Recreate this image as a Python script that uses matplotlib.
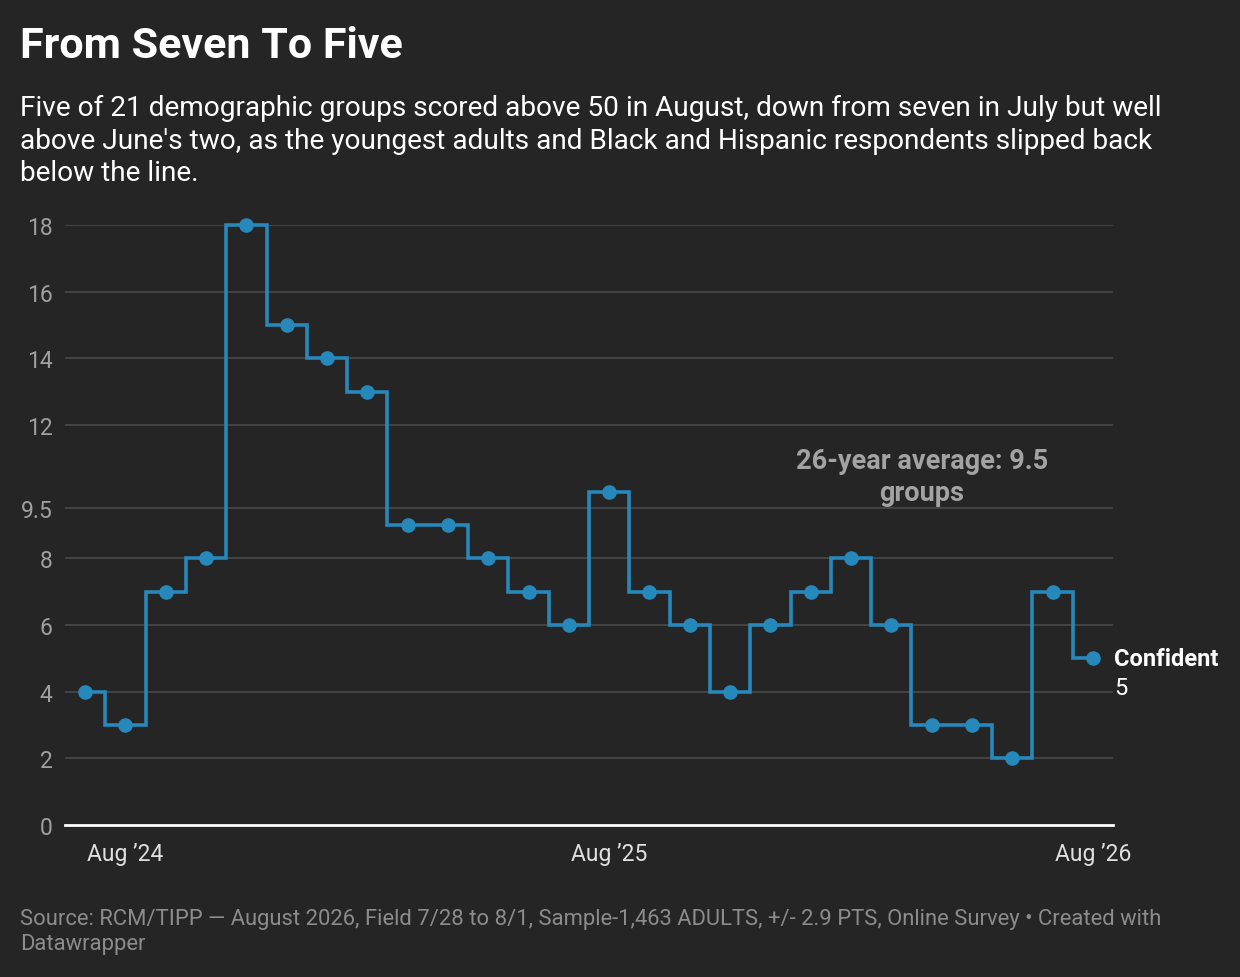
import matplotlib
matplotlib.use("Agg")
import matplotlib.pyplot as plt

# Groups scoring above 50, monthly Jul 2024 - Aug 2026
months = ["Jul '24", "Aug '24", "Sep '24", "Oct '24", "Nov '24", "Dec '24",
          "Jan '25", "Feb '25", "Mar '25", "Apr '25", "May '25", "Jun '25",
          "Jul '25", "Aug '25", "Sep '25", "Oct '25", "Nov '25", "Dec '25",
          "Jan '26", "Feb '26", "Mar '26", "Apr '26", "May '26", "Jun '26",
          "Jul '26", "Aug '26"]
confident = [4, 3, 7, 8, 18, 15, 14, 13, 9, 9, 8, 7, 6, 10, 7, 6, 4, 6, 7, 8,
             6, 3, 3, 2, 7, 5]
y_ticks = [0, 2, 4, 6, 8, 9.5, 12, 14, 16, 18]
x_tick_labels = {1: "Aug \u201924", 13: "Aug \u201925", 25: "Aug \u201926"}
average = 9.5

BG = "#252525"
BLUE = "#2788bc"

plt.rcParams['font.family'] = ['Roboto', 'DejaVu Sans']

fig = plt.figure(figsize=(12.4, 9.78), dpi=100, facecolor=BG)
ax = fig.add_axes([65 / 1240, 1 - 826 / 978, (1113 - 65) / 1240, 600 / 978])
ax.set_facecolor(BG)

x = list(range(len(months)))
ax.plot(x, confident, drawstyle="steps-mid", color=BLUE, lw=2.6,
        solid_joinstyle="miter", clip_on=False, zorder=3)
ax.plot(x, confident, "o", color=BLUE, ms=9.5, clip_on=False, zorder=4)

ax.set_xlim(-0.5, 25.5)
ax.set_ylim(0, 18)
ax.set_yticks(y_ticks)
ax.set_yticklabels([f"{t:g}" for t in y_ticks], fontsize=16.5, color="#a0a0a0")
ax.set_xticks(list(x_tick_labels.keys()))
ax.set_xticklabels(list(x_tick_labels.values()), fontsize=16.5, color="#e0e0e0")
ax.tick_params(axis="both", length=0)
ax.tick_params(axis="y", pad=9)
ax.tick_params(axis="x", pad=12)

for t in y_ticks[1:]:
    ax.axhline(t, color="#4a4a4a", lw=1.2, zorder=1)
ax.axhline(0, color="white", lw=2, zorder=2, clip_on=False)
for s in ax.spines.values():
    s.set_visible(False)

ax.text(20.76, 10.45, f"26-year average: {average:g}\ngroups", ha="center",
        va="center", fontsize=19.5, fontweight="bold", color="#a3a3a3",
        linespacing=1.25)

ax.annotate("Confident", (x[-1], confident[-1]), xytext=(15, 0),
            textcoords="offset points", ha="left", va="center", fontsize=17,
            fontweight="bold", color="white", annotation_clip=False)
ax.annotate(f"{confident[-1]}", (x[-1], confident[-1]), xytext=(15, -21),
            textcoords="offset points", ha="left", va="center", fontsize=17,
            color="white", annotation_clip=False)

fig.text(20 / 1240, 1 - 46 / 978, "From Seven To Five", fontsize=31,
         fontweight="bold", color="white", va="center")
fig.text(20 / 1240, 1 - 141 / 978,
         "Five of 21 demographic groups scored above 50 in August, down from seven in July but well\n"
         "above June's two, as the youngest adults and Black and Hispanic respondents slipped back\n"
         "below the line.",
         fontsize=20.2, color="white", va="center", linespacing=1.27)
fig.text(20 / 1240, 1 - 932 / 978,
         "Source: RCM/TIPP \u2014 August 2026, Field 7/28 to 8/1, Sample-1,463 ADULTS, +/- 2.9 PTS, Online Survey \u2022 Created with\n"
         "Datawrapper",
         fontsize=15.85, color="#8c8c8c", va="center", linespacing=1.25)

fig.savefig("out.png", dpi=100, facecolor=BG)
